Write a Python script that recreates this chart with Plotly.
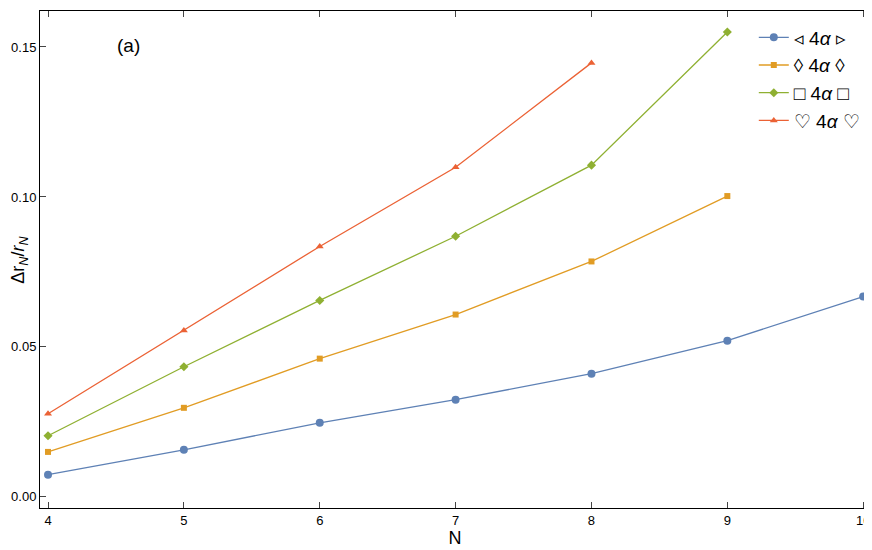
import plotly.graph_objects as go

N_blue = [4, 5, 6, 7, 8, 9, 10]
blue = [0.0074, 0.0157, 0.0247, 0.0324, 0.0411, 0.0521, 0.0668]
N_orange = [4, 5, 6, 7, 8, 9]
orange = [0.0150, 0.0297, 0.0461, 0.0608, 0.0785, 0.1003]
N_green = [4, 5, 6, 7, 8, 9]
green = [0.0204, 0.0434, 0.0655, 0.0869, 0.1106, 0.155]
N_red = [4, 5, 6, 7, 8]
red = [0.0277, 0.0555, 0.0835, 0.1099, 0.1447]
names = ["◃ 4<i>α</i> ▹", "◊ 4<i>α</i> ◊", "□ 4<i>α</i> □", "♡ 4<i>α</i> ♡"]

series = [(N_blue, blue, "#5E81B5", "circle", 8),
          (N_orange, orange, "#E19C24", "square", 6),
          (N_green, green, "#8FB032", "diamond", 7),
          (N_red, red, "#EB6235", "triangle-up", 7)]

fig = go.Figure()
for (x, y, c, sym, sz), nm in zip(series, names):
    fig.add_trace(go.Scatter(x=x, y=y, mode="lines+markers", name=nm,
                             line=dict(color=c, width=1.3),
                             marker=dict(color=c, symbol=sym, size=sz)))

ax = dict(showline=True, linecolor="black", mirror="ticks", ticks="inside",
          showgrid=False, zeroline=False, tickfont=dict(size=13, color="black"))
fig.update_layout(
    width=872, height=550, plot_bgcolor="white", paper_bgcolor="white",
    font=dict(family="Liberation Sans", color="black"),
    margin=dict(l=32, r=10, t=3, b=50),
    xaxis=dict(ax, range=[3.941, 10.05], dtick=1, ticklen=6,
               title=dict(text="N", font=dict(size=18), standoff=4)),
    yaxis=dict(ax, range=[-0.0037, 0.162], tickvals=[0, 0.05, 0.10, 0.15],
               ticktext=["0.00", "0.05", "0.10", "0.15"], ticklen=6),
    legend=dict(x=0.86, y=0.985, font=dict(size=19), bgcolor="rgba(0,0,0,0)",
                tracegroupgap=0, itemwidth=30),
    annotations=[
        dict(text="(a)", x=0.09, y=0.955, xref="paper", yref="paper",
             showarrow=False, font=dict(size=19)),
        dict(text="Δr<sub><i>N</i></sub>/<i>r<sub>N</sub></i>", x=-0.025, y=0.5,
             xref="paper", yref="paper", xanchor="center", textangle=-90,
             showarrow=False, font=dict(size=18)),
    ],
)
fig.write_html("out.html")
